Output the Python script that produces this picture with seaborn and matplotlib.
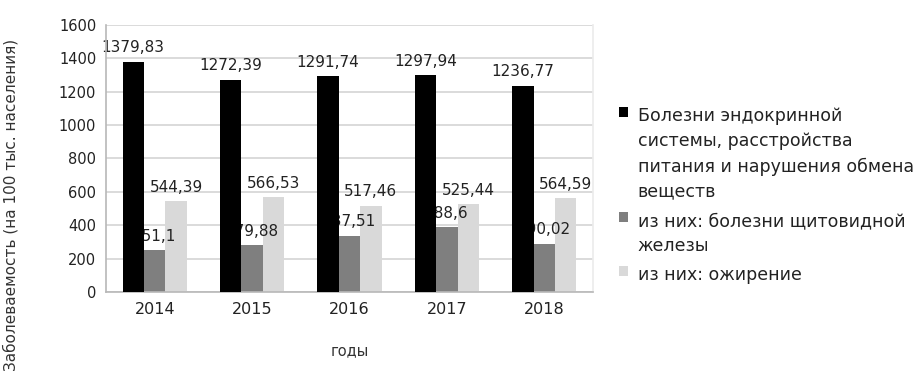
import matplotlib
matplotlib.use("Agg")
import matplotlib.pyplot as plt
import seaborn as sns
import pandas as pd

years = ["2014", "2015", "2016", "2017", "2018"]
series_names = [
    "Болезни эндокринной\nсистемы, расстройства\nпитания и нарушения обмена\nвеществ",
    "из них: болезни щитовидной\nжелезы",
    "из них: ожирение",
]
endocrine = [1379.83, 1272.39, 1291.74, 1297.94, 1236.77]
thyroid = [251.1, 279.88, 337.51, 388.6, 290.02]
obesity = [544.39, 566.53, 517.46, 525.44, 564.59]
value_labels = [
    ["1379,83", "1272,39", "1291,74", "1297,94", "1236,77"],
    ["251,1", "279,88", "337,51", "388,6", "290,02"],
    ["544,39", "566,53", "517,46", "525,44", "564,59"],
]
colors = ["#000000", "#7f7f7f", "#d9d9d9"]

rows = []
for name, vals in zip(series_names, [endocrine, thyroid, obesity]):
    for y, v in zip(years, vals):
        rows.append({"год": y, "серия": name, "значение": v})
df = pd.DataFrame(rows)

sns.set_theme(style="white")
plt.rcParams["font.family"] = ["DejaVu Sans"]

fig = plt.figure(figsize=(9.2, 3.78), dpi=100)
ax = fig.add_axes([106 / 920, 1 - 292 / 378, (593 - 106) / 920, (292 - 25) / 378])

sns.barplot(data=df, x="год", y="значение", hue="серия", palette=colors,
            width=0.66, saturation=1, linewidth=0, ax=ax, legend=True)

ax.set_ylim(0, 1600)
ax.set_yticks(range(0, 1601, 200))
ax.yaxis.grid(True, color="#d4d4d4", linewidth=1.2)
ax.set_axisbelow(True)
ax.spines["top"].set_visible(False)
ax.spines["right"].set_color("#ececec")
for s in ["left", "bottom"]:
    ax.spines[s].set_color("#b8b8b8")
    ax.spines[s].set_linewidth(1.2)
ax.tick_params(axis="y", labelsize=10.5, colors="#222222", length=3, color="#c8c8c8", pad=4)
ax.tick_params(axis="x", labelsize=11.5, colors="#222222", length=0, pad=7)

ax.set_xlabel("годы", fontsize=10.5, color="#333333", labelpad=19)
ax.set_ylabel("")
fig.text(11 / 920, 1 - 205 / 378, "Заболеваемость (на 100 тыс. населения)",
         rotation=90, ha="center", va="center", fontsize=11, color="#333333")

# value labels; labels of the grey series sit beneath the black bars
for i, cont in enumerate(ax.containers):
    for bar, txt in zip(cont, value_labels[i]):
        bar.set_zorder(3 if i == 0 else 1.5)
        ax.annotate(txt, (bar.get_x() + bar.get_width() / 2, bar.get_height()),
                    xytext=(0, 4.5), textcoords="offset points", ha="center", va="bottom",
                    fontsize=11, color="#222222", zorder=2)

leg = ax.legend(loc="center left", bbox_to_anchor=(1.04, 0.36), frameon=False,
                fontsize=12.5, handlelength=0.5, handleheight=0.5, handletextpad=0.55,
                labelspacing=0.65, borderaxespad=0)
for t in leg.get_texts():
    t.set_linespacing(1.5)
    t.set_color("#222222")
# keep each swatch level with the first line of its label
for row in leg._legend_handle_box.get_children()[0].get_children():
    row.align = "top"

fig.savefig("out.png", dpi=100, facecolor="white")
